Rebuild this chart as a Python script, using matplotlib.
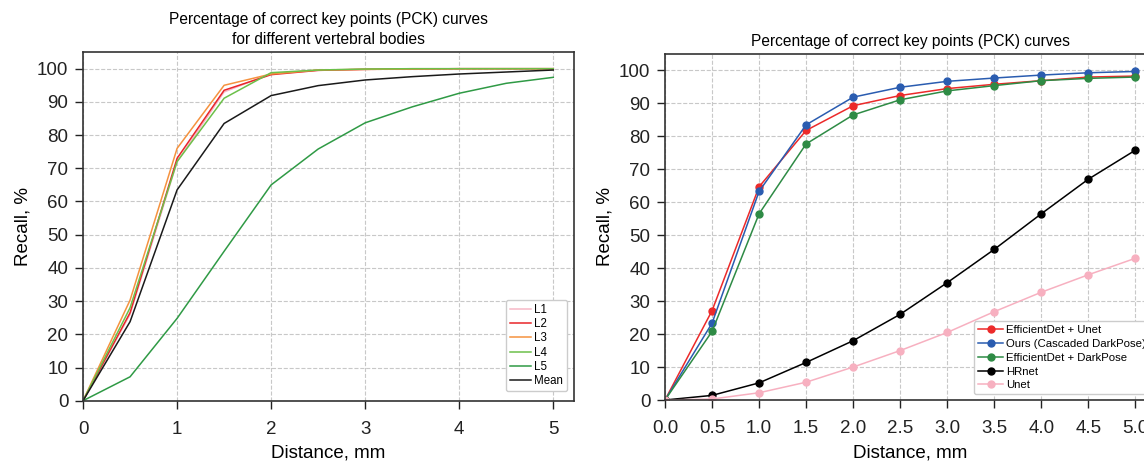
import matplotlib
matplotlib.use("Agg")
import matplotlib.pyplot as plt
import numpy as np

plt.rcParams['font.family'] = ['Liberation Sans', 'DejaVu Sans']

# distances (mm)
dist = [0, 0.5, 1.0, 1.5, 2.0, 2.5, 3.0, 3.5, 4.0, 4.5, 5.0]

# left panel: per vertebral body
l1 = [0, 26.0, 72.0, 93.0, 98.5, 99.5, 99.8, 100, 100, 100, 100]
l2 = [0, 26.5, 73.0, 93.5, 98.2, 99.5, 99.8, 99.9, 100, 100, 100]
l3 = [0, 30.3, 76.0, 95.0, 98.4, 99.6, 99.8, 99.9, 100, 100, 100]
l4 = [0, 28.0, 72.0, 91.1, 98.8, 99.6, 99.9, 100, 100, 100, 100]
l5 = [0, 7.2, 24.8, 45.0, 65.0, 75.8, 83.7, 88.5, 92.6, 95.6, 97.4]
mean = [0, 23.8, 63.5, 83.5, 91.9, 94.9, 96.6, 97.6, 98.4, 99.0, 99.6]
body_names = ['L1', 'L2', 'L3', 'L4', 'L5', 'Mean']
body_colors = ['#f7b8c6', '#e8262a', '#f5923e', '#6cc04a', '#2f9a45', '#1a1a1a']

# right panel: methods
eff_unet = [0, 27.1, 64.7, 81.8, 89.3, 92.4, 94.5, 95.8, 96.9, 98.0, 98.3]
ours = [0, 23.3, 63.3, 83.5, 91.9, 94.9, 96.7, 97.7, 98.6, 99.3, 99.7]
eff_dark = [0, 20.8, 56.5, 77.7, 86.5, 91.1, 93.8, 95.4, 96.9, 97.6, 98.0]
hrnet = [0, 1.4, 5.2, 11.4, 18.0, 26.0, 35.6, 45.7, 56.5, 67.0, 75.8]
unet = [0, 0.3, 2.2, 5.4, 10.0, 15.0, 20.5, 26.8, 32.7, 38.0, 43.0]
method_names = ['EfficientDet + Unet', 'Ours (Cascaded DarkPose)',
                'EfficientDet + DarkPose', 'HRnet', 'Unet']
method_colors = ['#ec2a2a', '#2a5cb0', '#2e8b45', '#000000', '#f7b0c0']

fig = plt.figure(figsize=(11.44, 4.61), dpi=100)
ax1 = fig.add_axes([0.0726, 0.1308, 0.4291, 0.7562])
ax2 = fig.add_axes([0.5813, 0.1323, 0.4292, 0.7506])

spine_col = '#333333'
for ax in (ax1, ax2):
    ax.grid(True, color='#c8c8c8', linestyle='--', linewidth=0.8)
    ax.set_axisbelow(True)
    ax.set_ylim(0, 105)
    ax.set_xlim(0, 5.22)
    ax.set_yticks(np.arange(0, 101, 10))
    ax.tick_params(labelsize=13.5, length=5.5, width=1, colors='#222222')
    ax.tick_params(axis='x', pad=9)
    ax.tick_params(axis='y', pad=5)
    for s in ax.spines.values():
        s.set_color(spine_col)
        s.set_linewidth(1.2)
    ax.set_xlabel('Distance, mm', fontsize=13.5, labelpad=5)
    ax.set_ylabel('Recall, %', fontsize=13.5, labelpad=4)

# left panel
for vals, name, col in zip([l1, l2, l3, l4, l5, mean], body_names, body_colors):
    ax1.plot(dist, vals, color=col, linewidth=1.1, label=name)
ax1.set_xticks(range(0, 6))
ax1.set_title('Percentage of correct key points (PCK) curves\nfor different vertebral bodies',
              fontsize=11.2, pad=6, linespacing=1.4)
leg1 = ax1.legend(loc='lower right', fontsize=8.3, handlelength=1.8, handletextpad=0.3,
                  labelspacing=0.2, borderpad=0.35, framealpha=1, edgecolor='#cccccc',
                  bbox_to_anchor=(0.998, 0.01))

# right panel
for vals, name, col in zip([eff_unet, ours, eff_dark, hrnet, unet], method_names, method_colors):
    ax2.plot(dist, vals, color=col, linewidth=1.1, marker='o', markersize=5, label=name)
ax2.set_xticks(dist)
ax2.set_xticklabels([f'{d:.1f}' for d in dist])
ax2.set_title('Percentage of correct key points (PCK) curves', fontsize=11.2, pad=6)
leg2 = ax2.legend(loc='lower right', fontsize=8.2, handlelength=2.2, handletextpad=0.3,
                  labelspacing=0.33, borderpad=0.35, framealpha=1, edgecolor='#cccccc',
                  bbox_to_anchor=(1.0, 0.0))

fig.savefig('out.png', dpi=100)
